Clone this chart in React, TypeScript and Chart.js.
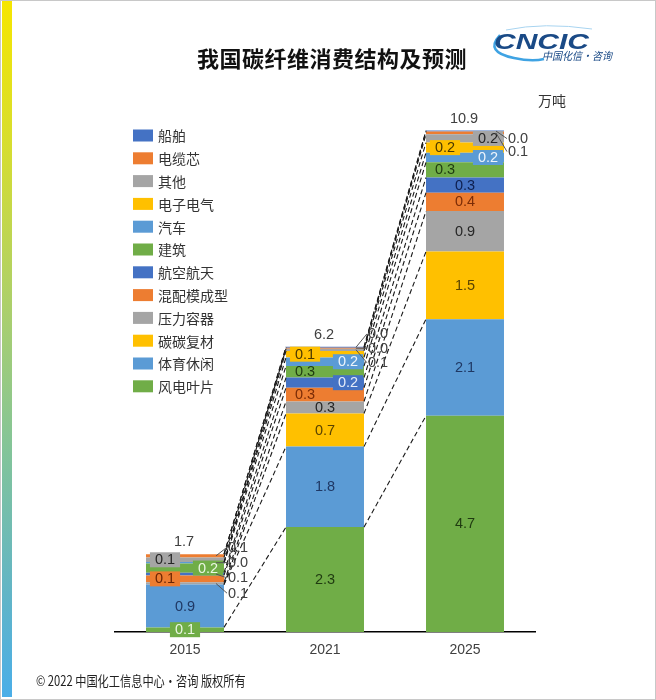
import { useEffect, useRef } from "react";
import { Chart, registerables } from "chart.js";

Chart.register(...registerables);

// ---------- data ----------
const years = ["2015", "2021", "2025"];
const seriesNames = [
  "风电叶片", "体育休闲", "碳碳复材", "压力容器", "混配模成型", "航空航天",
  "建筑", "汽车", "电子电气", "其他", "电缆芯", "船舶",
];
const windBlade = [0.1, 2.28, 4.7];
const sportsLeisure = [0.93, 1.75, 2.1];
const carbonCarbon = [0, 0.72, 1.47];
const pressureVessel = [0.05, 0.26, 0.88];
const moldingCompound = [0.15, 0.3, 0.4];
const aerospace = [0.06, 0.22, 0.33];
const construction = [0.2, 0.25, 0.33];
const automotive = [0.03, 0.19, 0.21];
const electronics = [0, 0.14, 0.22];
const others = [0.1, 0.05, 0.18];
const cableCore = [0.07, 0.02, 0.06];
const shipping = [0, 0.02, 0.02];
const seriesValues = [
  windBlade, sportsLeisure, carbonCarbon, pressureVessel, moldingCompound, aerospace,
  construction, automotive, electronics, others, cableCore, shipping,
];

// ---------- styles ----------
const GREEN = "#70AD47", LBLUE = "#5B9BD5", YELLOW = "#FFC000", GRAY = "#A5A5A5", ORANGE = "#ED7D31", BLUE = "#4472C4";
const seriesColors = [GREEN, LBLUE, YELLOW, GRAY, ORANGE, BLUE, GREEN, LBLUE, YELLOW, GRAY, ORANGE, BLUE];
const darkText = ["#1F3A10", "#1F3864", "#5A4300", "#262626", "#7B2C07", "#0E1F4F", "#1F3A10", "#1F3864", "#5A4300", "#262626", "#7B2C07", "#0E1F4F"];
const boxText = ["#EAF6E2", "#EEF5FC", "#4A3800", "#262626", "#6B2505", "#E6ECF9", "#EAF6E2", "#EEF5FC", "#4A3800", "#262626", "#6B2505", "#E6ECF9"];
// c = centre, l = left, r = right, boxX = label with fill, o = outside with leader, "" = none
const labelPlacement = [
  ["boxC", "c", "c"],
  ["c", "c", "c"],
  ["", "c", "c"],
  ["o", "c", "c"],
  ["boxL", "l", "c"],
  ["o", "boxR", "c"],
  ["boxR", "l", "l"],
  ["o", "boxR", "boxR"],
  ["", "boxL", "boxL"],
  ["boxL", "o", "boxR"],
  ["o", "o", "o"],
  ["", "o", "o"],
];
const outsideStart = [-7, -13, 8];
const outsideStep = [15.3, 14.5, 13];

const NUM_FONT = '14.5px "Liberation Sans", Arial, sans-serif';
const CJK_FONT = '14px "Noto Sans CJK SC", sans-serif';

const overlayPlugin = {
  id: "overlay",
  afterDatasetsDraw(chart: any) {
    const ctx = chart.ctx as CanvasRenderingContext2D;
    const n = seriesValues.length;
    ctx.save();

    // series lines between bars
    ctx.strokeStyle = "#1a1a1a";
    ctx.lineWidth = 1.1;
    ctx.setLineDash([5, 3]);
    for (let i = 0; i < n; i++) {
      const data = chart.getDatasetMeta(i).data;
      for (let j = 0; j < years.length - 1; j++) {
        const a = data[j], b = data[j + 1];
        ctx.beginPath();
        ctx.moveTo(a.x + a.width / 2, a.y);
        ctx.lineTo(b.x - b.width / 2, b.y);
        ctx.stroke();
      }
    }
    ctx.setLineDash([]);

    // data labels
    ctx.font = NUM_FONT;
    ctx.textBaseline = "middle";
    for (let j = 0; j < years.length; j++) {
      const outs: any[] = [];
      for (let i = 0; i < n; i++) {
        const p = labelPlacement[i][j];
        if (!p) continue;
        const el = chart.getDatasetMeta(i).data[j];
        const half = el.width / 2;
        const left = el.x - half;
        const right = el.x + half;
        const mid = (el.y + el.base) / 2;
        const txt = seriesValues[i][j].toFixed(1);
        if (p === "o") {
          outs.push({ i, mid, txt });
          continue;
        }
        let cx = el.x;
        if (p === "l" || p === "boxL") cx = left + 19;
        if (p === "r" || p === "boxR") cx = right - 16;
        ctx.textAlign = "center";
        if (p.startsWith("box")) {
          const w = ctx.measureText(txt).width + 10;
          ctx.fillStyle = seriesColors[i];
          ctx.fillRect(cx - w / 2, mid - 7.5, w, 15);
          ctx.fillStyle = boxText[i];
        } else {
          ctx.fillStyle = darkText[i];
        }
        ctx.fillText(txt, cx, mid + 0.5);
      }
      // outside labels, top first
      const topEl = chart.getDatasetMeta(n - 1).data[j];
      const barRight = topEl.x + topEl.width / 2;
      outs.sort((a, b) => b.i - a.i);
      outs.forEach((o, k) => {
        const ly = topEl.y + outsideStart[j] + k * outsideStep[j];
        const tx = barRight + 4;
        ctx.strokeStyle = "#555";
        ctx.lineWidth = 1;
        ctx.beginPath();
        ctx.moveTo(barRight - 8, o.mid);
        ctx.lineTo(tx - 1, ly);
        ctx.stroke();
        ctx.fillStyle = "#404040";
        ctx.textAlign = "left";
        ctx.fillText(o.txt, tx, ly + 0.5);
      });
      // totals
      let total = 0;
      for (let i = 0; i < n; i++) total += seriesValues[i][j];
      ctx.fillStyle = "#404040";
      ctx.textAlign = "center";
      ctx.fillText(total.toFixed(1), topEl.x - 1, topEl.y - 12);
    }

    // legend (top of stack first)
    ctx.font = CJK_FONT;
    ctx.textAlign = "left";
    for (let k = 0; k < n; k++) {
      const i = n - 1 - k;
      const cy = 135.5 + k * 22.8;
      ctx.fillStyle = seriesColors[i];
      ctx.fillRect(133, cy - 6, 20, 12);
      ctx.fillStyle = "#333";
      ctx.fillText(seriesNames[i], 158, cy + 0.5);
    }
    ctx.restore();
  },
};

export default function App() {
  const canvasRef = useRef<HTMLCanvasElement | null>(null);

  useEffect(() => {
    if (!canvasRef.current) return;
    const chart = new Chart(canvasRef.current, {
      type: "bar",
      data: {
        labels: years,
        datasets: seriesNames.map((name, i) => ({
          label: name,
          data: seriesValues[i],
          backgroundColor: seriesColors[i],
          borderWidth: 0,
          barPercentage: 1,
          categoryPercentage: 0.557,
        })),
      },
      options: {
        animation: false,
        responsive: false,
        layout: { padding: { left: 115, right: 121, top: 80, bottom: 31.2 } },
        plugins: { legend: { display: false }, title: { display: false }, tooltip: { enabled: false } },
        scales: {
          x: {
            stacked: true,
            grid: { display: false, drawTicks: false },
            border: { display: true, color: "#000", width: 1.5 },
            ticks: { color: "#404040", font: { size: 14, family: '"Liberation Sans", Arial, sans-serif' }, padding: 10 },
          },
          y: { stacked: true, display: false, min: 0, max: 12 },
        },
      },
      plugins: [overlayPlugin],
    });
    return () => chart.destroy();
  }, []);

  return (
    <div style={{ position: "absolute", left: 0, top: 0, width: 656, height: 700, background: "#fff", overflow: "hidden" }}>
      <div
        style={{
          position: "absolute", left: 2, top: 1, width: 10, height: 696,
          background: "linear-gradient(#F6E600 0%, #D8DE2E 20%, #AACF6E 45%, #82C49A 65%, #62B5C6 85%, #4AAEE8 100%)",
        }}
      />
      <canvas ref={canvasRef} width={656} height={700} style={{ position: "absolute", left: 0, top: 0 }} />
      <div
        style={{
          position: "absolute", left: 197, top: 46, fontSize: 22, lineHeight: "22px", fontWeight: "bold",
          letterSpacing: 0.5, fontFamily: '"Noto Sans CJK SC", sans-serif', color: "#111", whiteSpace: "nowrap",
        }}
      >
        我国碳纤维消费结构及预测
      </div>
      <svg width={150} height={50} style={{ position: "absolute", left: 484, top: 22 }}>
        <path d="M 16 13 Q 0 30 30 36 Q 48 40 60 37" stroke="#3FA3E3" strokeWidth={2.5} fill="none" />
        <path d="M 22 8 Q 60 0 108 7" stroke="#A8D4F0" strokeWidth={1} fill="none" />
        <text x={10} y={27} fontFamily='"Liberation Sans", Arial, sans-serif' fontWeight="bold" fontStyle="italic"
          fontSize={22} fill="#1A4A86" textLength={95} lengthAdjust="spacingAndGlyphs">CNCIC</text>
        <text x={58} y={38} fontFamily='"Noto Sans CJK SC", sans-serif' fontStyle="italic" fontSize={11}
          fill="#1A4A86" textLength={70} lengthAdjust="spacingAndGlyphs">中国化信·咨询</text>
      </svg>
      <div style={{ position: "absolute", left: 538, top: 93, fontSize: 14, lineHeight: "14px", color: "#333", fontFamily: '"Noto Sans CJK SC", sans-serif' }}>
        万吨
      </div>
      <div
        style={{
          position: "absolute", left: 36, top: 672, fontSize: 14, lineHeight: "16px", color: "#222", whiteSpace: "nowrap",
          fontFamily: '"Noto Sans CJK SC", sans-serif', transform: "scaleX(0.8)", transformOrigin: "left center",
        }}
      >
        © 2022 中国化工信息中心·咨询 版权所有
      </div>
      <div style={{ position: "absolute", left: 0, top: 0, width: 656, height: 700, boxSizing: "border-box", border: "1px solid #c8c8c8", pointerEvents: "none" }} />
    </div>
  );
}
